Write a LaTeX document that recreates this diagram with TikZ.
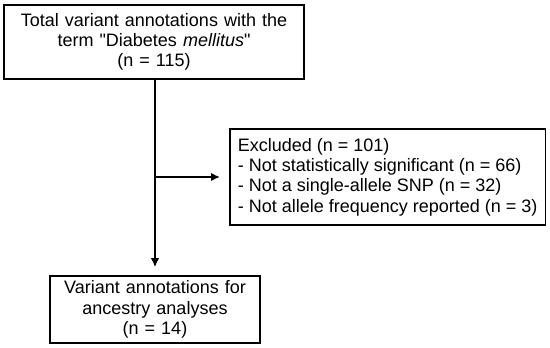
\documentclass[tikz,border=0pt]{standalone}
\usepackage{fontspec}
\setmainfont{Liberation Sans}
\usepackage{tikz}
\usetikzlibrary{arrows.meta,positioning,calc}

\begin{document}
\begin{tikzpicture}[>={Latex[length=9pt,width=8.5pt]},line width=1.6pt,
  box/.style={draw,inner xsep=8pt,inner ysep=0pt,font=\fontsize{18}{20.3}\selectfont}]
\useasboundingbox (0pt,0pt) rectangle (550pt,-348pt);
\node[box,align=center,text width=284pt,minimum height=74pt] (total) at (154pt,-42pt)
  {Total variant annotations with the\\term \textquotedbl Diabetes \textit{mellitus}\textquotedbl\\(n = 115)};
\node[box,align=left,inner xsep=8pt,minimum height=96pt,anchor=west] (excl) at (229pt,-177pt)
  {Excluded (n = 101)\\- Not statistically significant (n = 66)\\- Not a single-allele SNP (n = 32)\\- Not allele frequency reported (n = 3)};
\node[box,align=center,text width=194pt,minimum height=67pt] (anc) at (155pt,-309.5pt)
  {Variant annotations for\\ancestry analyses\\(n = 14)};
\coordinate (j) at (anc.north |- excl.west);
\draw[->,shorten >=8pt] (anc.north |- total.south) -- (anc);
\draw[->,shorten >=9pt] (j) -- (excl);
\end{tikzpicture}
\end{document}
